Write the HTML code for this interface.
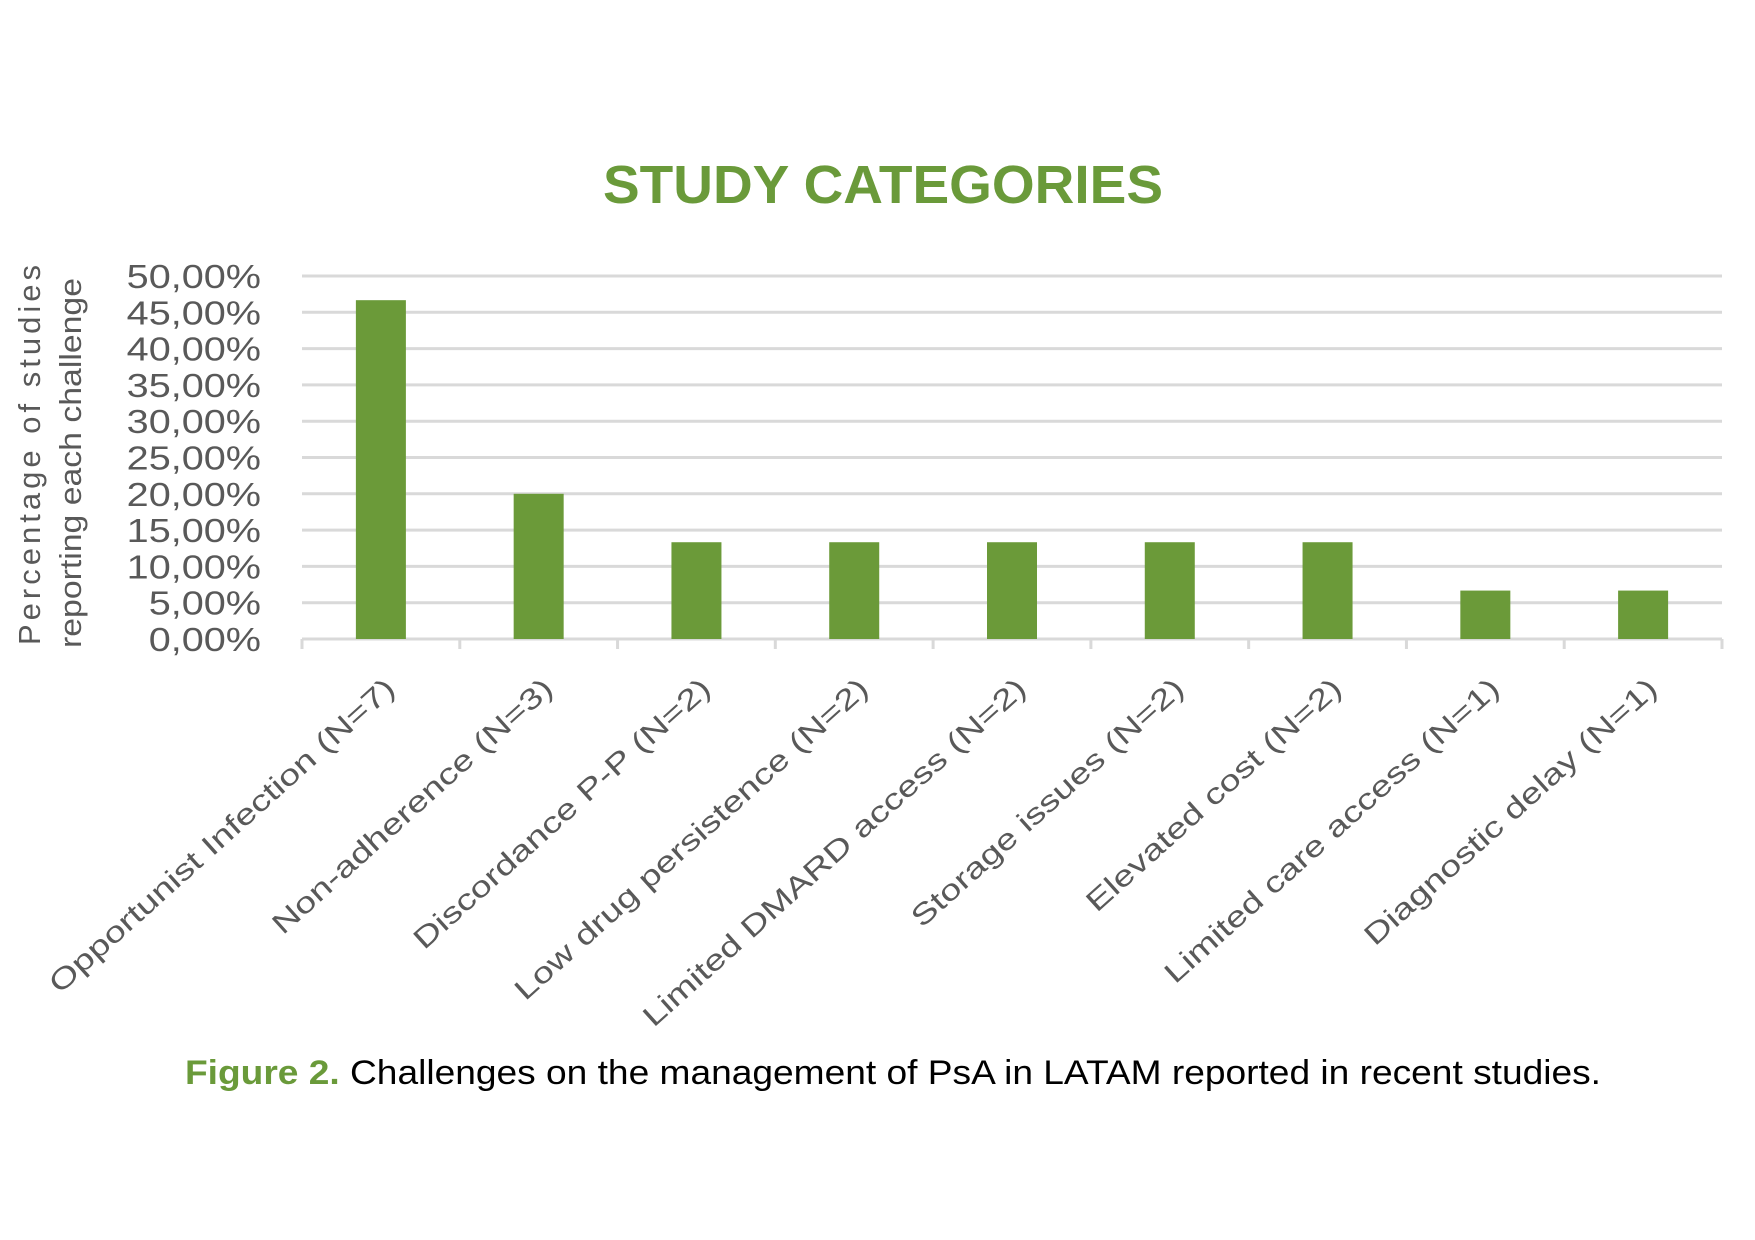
<!DOCTYPE html>
<html><head><meta charset="utf-8"><style>
html,body{margin:0;padding:0;background:#fff;}
svg{display:block;}
text{font-family:"Liberation Sans",sans-serif;}
</style></head><body>
<svg id="chart" width="1755" height="1240" viewBox="0 0 1755 1240">
<text x="883" y="203" text-anchor="middle" font-size="54" font-weight="bold" fill="#6a9a3a" textLength="560" lengthAdjust="spacingAndGlyphs">STUDY CATEGORIES</text>
<g id="grid"></g><g id="bars"></g><g id="xlabels"></g><g id="ylabels"></g>
<g transform="translate(40,455) rotate(-90)">
<text x="0" y="0" text-anchor="middle" font-size="31" fill="#595959" textLength="380" lengthAdjust="spacing">Percentage of studies</text>
<text x="0" y="41" text-anchor="middle" font-size="31" fill="#595959" textLength="370" lengthAdjust="spacingAndGlyphs" transform="translate(-8,0)">reporting each challenge</text>
</g>
<text x="185" y="1084" font-size="34" fill="#000" textLength="1416" lengthAdjust="spacingAndGlyphs"><tspan font-weight="bold" fill="#6a9a3a">Figure 2.</tspan> Challenges on the management of PsA in LATAM reported in recent studies.</text>
</svg>
<script>
const categories=["Opportunist Infection (N=7)","Non-adherence (N=3)","Discordance P-P (N=2)","Low drug persistence (N=2)","Limited DMARD access (N=2)","Storage issues (N=2)","Elevated cost (N=2)","Limited care access (N=1)","Diagnostic delay (N=1)"];
const values=[46.67,20,13.33,13.33,13.33,13.33,13.33,6.67,6.67];
const yTicks=[0,5,10,15,20,25,30,35,40,45,50];
const yTickLabels=["0,00%","5,00%","10,00%","15,00%","20,00%","25,00%","30,00%","35,00%","40,00%","45,00%","50,00%"];
const NS="http://www.w3.org/2000/svg";
const X0=302,X1=1722,Y0=639,Y1=276,YMAX=50;
const bw=(X1-X0)/categories.length;
function y(v){return Y0-(v/YMAX)*(Y0-Y1);}
function xc(i){return X0+bw*(i+0.5);}
function mk(tag,attrs,parent){const e=document.createElementNS(NS,tag);for(const k in attrs)e.setAttribute(k,attrs[k]);parent.appendChild(e);return e;}
const grid=document.getElementById('grid'),bars=document.getElementById('bars'),xl=document.getElementById('xlabels'),yl=document.getElementById('ylabels');
yTicks.forEach((t,i)=>{
  if(t>0){const l=mk('line',{x1:X0,x2:X1,y1:y(t),y2:y(t),stroke:'#d9d9d9','stroke-width':3},grid);
  
  }
  const tx=mk('text',{x:261,y:y(t)+12,'text-anchor':'end','font-size':33,fill:'#595959'},yl);
  tx.textContent=yTickLabels[i];
  
  
  const nat=tx.getComputedTextLength();
  tx.setAttribute('textLength',nat*1.2);
  tx.setAttribute('lengthAdjust','spacingAndGlyphs');
});
const ax=mk('line',{x1:X0,x2:X1,y1:Y0,y2:Y0,stroke:'#d9d9d9','stroke-width':3},grid);


for(let i=0;i<=categories.length;i++){
  const tk=mk('line',{x1:X0+bw*i,x2:X0+bw*i,y1:Y0,y2:Y0+10,stroke:'#d9d9d9','stroke-width':3},grid);
  
  
}
categories.forEach((c,i)=>{
  const w=50;
  const r=mk('rect',{x:xc(i)-w/2,y:y(values[i]),width:w,height:Y0-y(values[i]),fill:'#6b9a39'},bars);
  
  
  const t=mk('text',{x:0,y:0,'text-anchor':'end','font-size':29,fill:'#595959',transform:`translate(${xc(i)+16},${Y0+52}) rotate(-42)`},xl);
  t.textContent=c;
  
  
  const nat=t.getComputedTextLength();
  t.setAttribute('textLength',nat*1.3);
  t.setAttribute('lengthAdjust','spacingAndGlyphs');
});
</script>
</body></html>
